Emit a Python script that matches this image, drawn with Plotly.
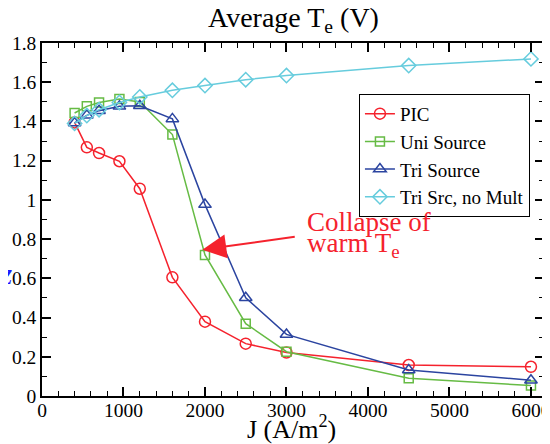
import plotly.graph_objects as go

J = [400, 550, 700, 950, 1200, 1600, 2000, 2500, 3000, 4500, 6000]
pic = [1.395, 1.268, 1.239, 1.197, 1.057, 0.605, 0.379, 0.267, 0.222, 0.158, 0.149]
uni = [1.443, 1.477, 1.497, 1.514, 1.499, 1.333, 0.719, 0.369, 0.226, 0.090, 0.053]
tri = [1.392, 1.431, 1.455, 1.477, 1.480, 1.413, 0.976, 0.501, 0.314, 0.133, 0.080]
tri_nomult = [1.390, 1.430, 1.460, 1.497, 1.525, 1.559, 1.583, 1.613, 1.634, 1.685, 1.719]

names = ["PIC", "Uni Source", "Tri Source", "Tri Src, no Mult"]
series = [pic, uni, tri, tri_nomult]
colors = ["#f5222d", "#66bb44", "#2b44a0", "#66ccdd"]
symbols = ["circle-open", "square-open", "triangle-up-open", "diamond-open"]
sizes = [11, 9, 11, 11]

FONT = "Liberation Serif"

fig = go.Figure()
for n, s, c, sym, sz in zip(names, series, colors, symbols, sizes):
    fig.add_trace(go.Scatter(
        x=J, y=s, name=n, mode="lines+markers",
        line=dict(color=c, width=1.5),
        marker=dict(symbol=sym, size=sz, color=c, line=dict(color=c, width=1.5)),
    ))

axis_common = dict(
    showline=True, linecolor="black", linewidth=1.5, mirror="ticks",
    ticks="inside", ticklen=9, tickwidth=1.5, tickcolor="black",
    showgrid=False, zeroline=False,
    tickfont=dict(family=FONT, size=19.5, color="black"),
)
fig.update_xaxes(range=[0, 6160], dtick=1000, tick0=0, ticklabelstandoff=-4,
                 minor=dict(dtick=200, ticks="inside", ticklen=5, tickwidth=1.2, tickcolor="black"),
                 **axis_common)
fig.update_yaxes(range=[0, 1.8], dtick=0.2, tick0=0, tickformat="~g",
                 minor=dict(dtick=0.1, ticks="inside", ticklen=5, tickwidth=1.2, tickcolor="black"),
                 **axis_common)

fig.update_layout(
    width=550, height=444,
    margin=dict(l=34, r=14, t=35, b=56, autoexpand=False),
    paper_bgcolor="white", plot_bgcolor="white",
    font=dict(family=FONT, color="black"),
    showlegend=True,
    legend=dict(x=0.972, y=0.856, xanchor="right", yanchor="top",
                bgcolor="white", bordercolor="black", borderwidth=1,
                font=dict(family=FONT, size=19, color="black"),
                tracegroupgap=0, itemwidth=30),
    annotations=[
        dict(text="Average T<sub>e</sub> (V)", xref="paper", yref="paper",
             x=0.5, y=1.066, xanchor="center", yanchor="middle", showarrow=False,
             font=dict(family=FONT, size=28, color="black")),
        dict(text="J (A/m<sup>2</sup>)", xref="paper", yref="paper",
             x=0.497, y=-0.088, xanchor="center", yanchor="middle", showarrow=False,
             font=dict(family=FONT, size=26, color="black")),
        dict(text="Collapse of", xref="paper", yref="paper",
             x=(305 - 42) / 502, y=(396.3 - 222) / 353, xanchor="left", yanchor="middle",
             showarrow=False, font=dict(family=FONT, size=27, color="#f5222d")),
        dict(text="warm T<sub>e</sub>", xref="paper", yref="paper",
             x=(305 - 42) / 502, y=(396.3 - 245) / 353, xanchor="left", yanchor="middle",
             showarrow=False, font=dict(family=FONT, size=27, color="#f5222d")),
        dict(text="", x=1967, y=0.746, xref="x", yref="y",
             ax=3120, ay=0.813, axref="x", ayref="y",
             showarrow=True, arrowhead=2, arrowsize=2.4, arrowwidth=2,
             arrowcolor="#f5222d"),
        dict(text="<b><i>Z</i></b>", xref="paper", yref="paper",
             x=(14 - 42) / 502, y=(396.3 - 277) / 353, xanchor="right", yanchor="middle",
             showarrow=False, font=dict(family=FONT, size=20, color="#1a1aff")),
    ],
)

fig.write_html("out.html")
